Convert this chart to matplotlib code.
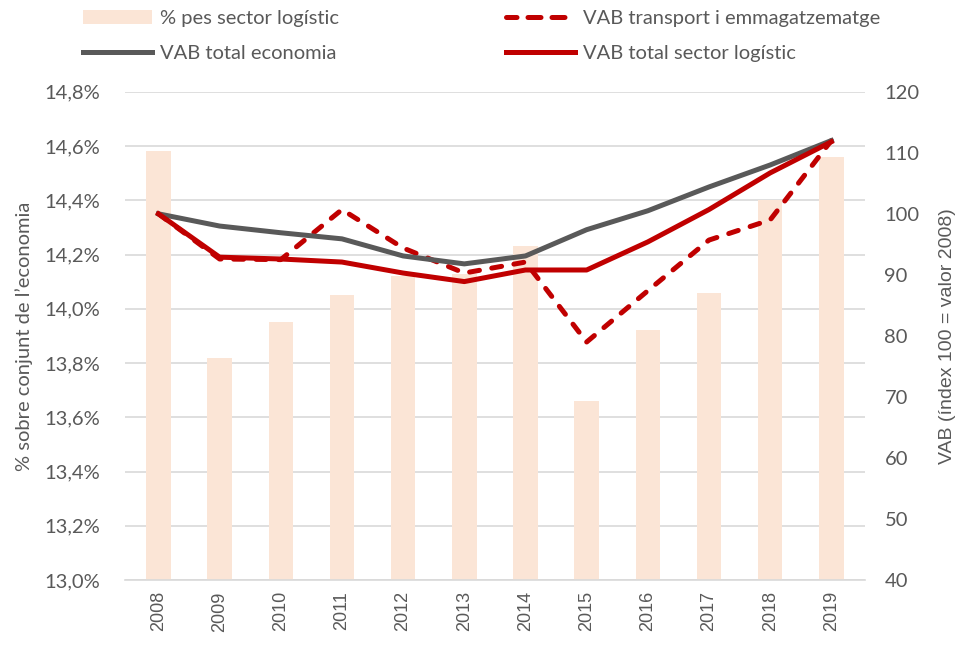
import matplotlib.pyplot as plt
from matplotlib.lines import Line2D
import numpy as np

plt.rcParams['font.family'] = ['Lato', 'DejaVu Sans']

years = ['2008', '2009', '2010', '2011', '2012', '2013',
         '2014', '2015', '2016', '2017', '2018', '2019']

# % pes sector logístic (eix esquerre)
pes_logistic = [14.58, 13.82, 13.95, 14.05, 14.12, 14.13,
                14.23, 13.66, 13.92, 14.06, 14.40, 14.56]

# VAB, índex 100 = 2008 (eix dret)
vab_transport = [100.0, 92.6, 92.5, 100.7, 94.4, 90.3,
                 92.1, 79.0, 87.4, 95.7, 99.0, 112.0]
vab_economia = [100.0, 98.0, 96.9, 95.9, 93.1, 91.8,
                93.1, 97.4, 100.5, 104.4, 108.0, 112.0]
vab_logistic = [100.0, 92.9, 92.6, 92.1, 90.3, 88.9,
                90.8, 90.8, 95.4, 100.7, 106.7, 111.8]

txt = '#595959'
x = np.arange(len(years))

fig = plt.figure(figsize=(9.6, 6.46), dpi=100)
ax = fig.add_axes([0.130, 0.102, 0.771, 0.756])
ax2 = ax.twinx()

bars = ax.bar(x, pes_logistic, width=0.4, color='#FBE5D6', bottom=0,
              label='% pes sector logístic', zorder=2)
ax.set_ylim(13.0, 14.8)
ax.set_yticks(np.arange(13.0, 14.81, 0.2))
ax.set_yticklabels([f'{v:.1f}%'.replace('.', ',') for v in np.arange(13.0, 14.81, 0.2)])
ax.grid(axis='y', color='#D9D9D9', linewidth=1.2, zorder=0)
ax.set_axisbelow(True)
ax.set_xlim(-0.55, 11.55)
ax.set_xticks(x)
ax.set_xticklabels(years, rotation=90, family=['Liberation Sans', 'DejaVu Sans'])
ax.set_ylabel('% sobre conjunt de l’economia', fontsize=14.5, color=txt, labelpad=8)

l1, = ax2.plot(x, vab_transport, color='#C00000', linewidth=3.6, linestyle=(0, (2.0, 2.5)),
               dash_capstyle='round', label='VAB transport i emmagatzematge')
l2, = ax2.plot(x, vab_economia, color='#595959', linewidth=3.6,
               label='VAB total economia')
l3, = ax2.plot(x, vab_logistic, color='#C00000', linewidth=3.6,
               label='VAB total sector logístic')
ax2.set_ylim(40, 120)
ax2.set_yticks(range(40, 121, 10))
ax2.set_ylabel('VAB (índex 100 = valor 2008)', fontsize=14, color=txt, rotation=90,
               labelpad=14, family=['Liberation Sans', 'DejaVu Sans'])

for a in (ax, ax2):
    for s in a.spines.values():
        s.set_visible(False)
    a.tick_params(length=0, colors=txt, labelsize=14.5)
ax.tick_params(axis='y', pad=18)
ax2.tick_params(axis='y', pad=14)
ax.tick_params(axis='x', labelsize=13, pad=8)
ax.spines['bottom'].set_visible(True)
ax.spines['bottom'].set_color('#D9D9D9')
ax.spines['bottom'].set_linewidth(1.2)

# a la llegenda la línia discontínua es veu amb tres traços
dash_leg = Line2D([], [], color='#C00000', linewidth=3.6, linestyle=(0.5, (2.6, 2.2)),
                  dash_capstyle='round')

# ordre per columnes: fila 1 = barres + transport, fila 2 = economia + logístic
handles = [bars, l2, dash_leg, l3]
labels = [bars.get_label(), l2.get_label(), l1.get_label(), l3.get_label()]
fig.legend(handles, labels, ncol=2, loc='upper left',
           bbox_to_anchor=(0.068, 1.012), frameon=False, fontsize=14.5,
           labelcolor=txt, handlelength=3.4, handletextpad=0.4,
           columnspacing=8.3, labelspacing=0.85)

fig.savefig('out.png', dpi=100)
